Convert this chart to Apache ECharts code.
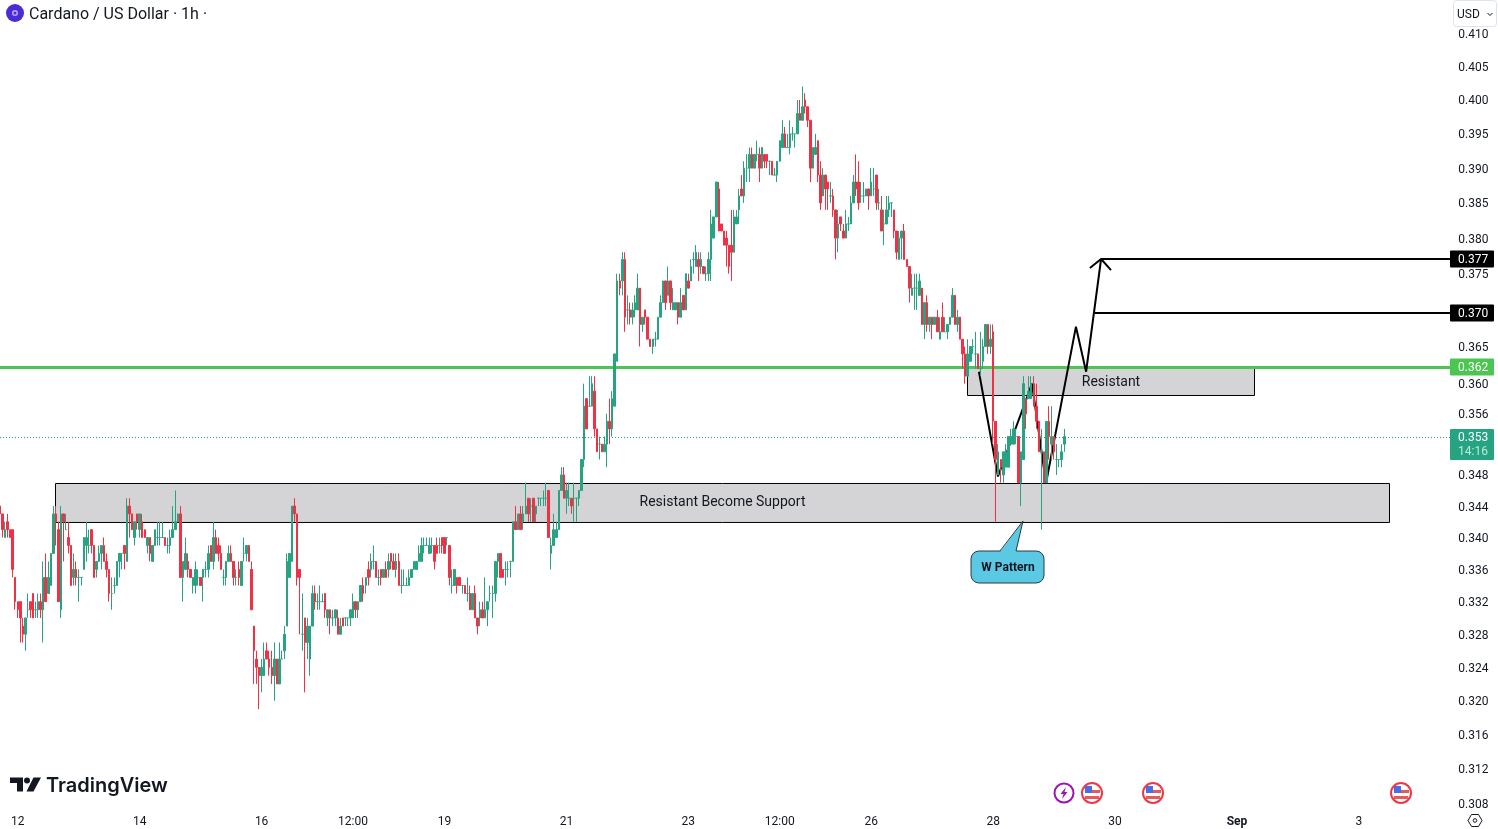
<!DOCTYPE html>
<html>
<head>
<meta charset="utf-8">
<style>html,body{margin:0;padding:0;background:#fff;overflow:hidden}#c{width:1498px;height:829px}</style>
<script src="https://cdn.jsdelivr.net/npm/echarts@6/dist/echarts.min.js"></script>
</head>
<body>
<div id="c"></div>
<script>
// Hourly ADA/USD candles, prices in thousandths of a dollar, first bar Aug 11 17:00
const opens = [
344,343,340,342,341,341,335,332,332,329, 328,331,332,333,331,331,332,331,335,333,
334,338,343,341,331,343,341,340,339,335, 336,335,335,336,339,339,341,339,336,337,
338,339,337,336,333,334,334,337,338,339, 337,344,343,340,343,341,342,341,339,340,
337,339,340,340,340,340,339,339,340,341, 342,343,335,336,337,336,334,334,335,335,
335,336,336,339,337,340,339,338,335,335, 337,338,337,335,336,334,338,338,339,336,
329,325,324,323,323,326,325,324,323,325, 322,325,326,329,335,337,344,343,336,328,
330,327,325,329,333,332,332,332,333,330, 331,330,330,330,328,330,330,330,330,330,
332,331,332,334,334,336,336,337,337,335, 336,335,336,336,338,337,336,337,334,334,
334,334,335,336,336,337,337,339,339,338, 339,339,339,339,340,340,340,339,334,334,
335,335,334,334,333,333,331,333,330,330, 331,330,331,333,333,333,337,338,336,336,
336,337,337,342,341,343,342,343,345,344, 345,343,345,345,345,345,346,338,339,340,
341,346,348,345,345,345,345,345,345,346, 350,358,357,357,359,354,352,352,351,352,
355,354,357,363,374,374,377,370,370,369, 370,370,373,368,370,369,366,365,366,366,
369,371,374,372,374,370,370,371,369,372, 370,374,374,377,376,377,376,376,375,375,
377,380,383,387,382,381,380,379,379,378, 382,384,387,386,390,390,392,390,392,392,
390,392,392,391,391,389,389,391,393,395, 393,393,395,395,395,398,397,400,399,397,
390,392,394,389,386,389,388,386,386,384, 380,383,381,380,382,382,385,388,388,386,
386,386,387,386,387,389,385,384,382,382, 384,385,384,381,377,380,381,377,376,372,
373,373,372,373,368,371,368,369,368,369, 366,369,367,367,368,369,372,368,369,366,
364,361,363,365,364,364,362,363,365,368, 365,367,355,348,350,348,349,349,352,352,
353,353,347,350,358,358,358,360,357,355, 351,351,347,355,352,353,350,350,350,352];
const closes = [
343,341,341,341,340,336,332,331,330,328, 330,331,331,330,331,332,331,335,332,335,
338,343,342,332,343,342,341,339,334,336, 335,335,335,340,340,339,339,335,337,338,
339,337,336,333,333,334,337,338,338,338, 344,343,341,342,342,343,340,340,340,338,
339,341,340,340,340,339,339,340,341,342, 343,335,337,338,336,335,335,336,335,334,
336,336,338,337,340,338,338,336,335,337, 338,337,335,335,335,337,338,339,337,331,
326,324,323,324,325,325,324,323,325,322, 325,325,328,337,338,344,343,335,335,328,
327,329,329,333,332,332,332,332,331,331, 330,330,331,328,329,329,330,330,331,332,
331,332,334,333,335,335,337,337,335,335, 335,336,335,337,337,336,337,334,334,334,
334,335,336,337,337,338,339,339,339,339, 339,337,338,339,339,338,340,335,334,336,
334,334,334,333,333,331,333,330,329,331, 330,331,332,333,333,337,338,335,335,336,
336,337,342,341,343,341,343,344,343,344, 342,344,345,345,345,345,340,339,341,341,
346,348,345,346,345,344,345,345,346,350, 357,354,357,360,354,351,352,351,352,355,
354,358,364,374,373,377,369,370,369,370, 371,373,368,369,369,366,365,366,366,369,
371,374,371,374,371,371,371,369,371,370, 375,373,376,377,378,376,377,375,375,377,
382,383,388,381,381,379,379,376,378,383, 383,386,386,390,390,392,390,392,392,390,
393,391,391,391,389,389,391,394,395,393, 393,395,395,395,398,397,399,399,397,390,
393,393,389,385,389,387,387,386,384,380, 382,382,380,382,382,385,388,387,385,386,
386,387,386,388,387,385,385,381,382,384, 385,385,381,378,380,381,377,376,373,373,
373,373,374,368,371,368,369,368,369,367, 367,367,367,368,369,372,368,369,366,364,
361,364,365,365,364,362,362,365,368,365, 366,355,350,351,349,351,351,353,353,354,
353,347,351,360,356,359,360,357,355,351, 351,347,355,353,353,351,350,350,351,353];
const lows = [
342,340,340,340,340,335,331,330,327,327, 326,330,330,330,330,330,330,327,332,333,
334,338,339,332,330,337,341,338,334,334, 334,332,334,336,337,338,338,335,335,337,
336,337,335,332,331,333,334,335,336,336, 337,340,341,339,341,340,340,340,338,337,
337,339,339,339,340,339,338,338,340,341, 342,335,332,336,335,335,333,333,334,334,
332,335,335,337,336,338,337,336,334,334, 337,337,334,334,334,334,337,337,337,331,
322,322,319,321,323,325,323,322,320,322, 322,325,325,329,335,337,342,334,328,326,
321,325,323,329,331,331,331,332,330,329, 328,329,329,328,328,329,329,329,329,330,
330,330,332,332,333,334,335,336,335,334, 334,335,335,335,336,336,335,334,333,334,
334,334,335,336,336,337,337,338,339,338, 338,336,338,338,338,338,339,334,333,334,
333,334,333,333,332,331,331,330,328,329, 330,330,329,332,330,332,335,335,335,334,
335,335,337,341,341,341,341,343,342,342, 342,342,344,344,344,344,340,336,339,340,
341,346,345,343,344,343,342,342,344,346, 349,354,357,357,353,351,350,351,351,349,
352,353,357,363,372,372,367,368,368,368, 369,370,365,367,368,366,365,364,365,366,
369,371,370,372,370,370,370,368,369,370, 370,373,374,375,376,374,375,375,374,374,
374,380,383,381,381,379,376,375,374,378, 382,382,386,385,388,388,390,390,391,388,
390,390,390,389,389,389,388,391,393,393, 393,392,394,393,395,397,397,398,396,388,
390,392,388,384,386,384,384,385,383,377, 378,381,380,380,381,382,385,386,384,385,
385,386,384,386,386,384,384,381,379,382, 383,383,380,377,377,377,377,376,371,372,
370,370,372,368,366,367,367,366,368,367, 366,367,367,366,368,369,368,367,366,362,
360,361,363,364,362,362,361,362,365,364, 364,352,342,348,347,347,349,349,352,352,
352,347,344,350,354,358,358,357,354,351, 341,347,347,350,350,350,348,349,349,351];
const highs = [
345,343,342,343,341,341,335,332,332,330, 330,333,332,333,332,333,333,337,338,337,
338,344,344,342,344,343,343,342,339,338, 337,336,335,340,342,341,341,339,337,339,
339,340,338,336,335,335,337,338,338,339, 345,345,343,342,343,343,343,341,340,340,
339,341,342,342,342,340,340,341,344,346, 343,344,337,340,338,336,335,337,336,335,
336,337,339,339,342,341,340,339,336,337, 339,339,337,336,337,337,340,339,339,337,
329,326,324,325,327,327,326,326,327,325, 327,326,329,338,338,344,345,343,336,333,
330,330,329,334,334,333,334,333,333,331, 331,331,331,331,330,330,330,330,331,333,
332,332,334,335,335,337,338,339,337,336, 336,336,337,338,338,338,338,338,336,336,
335,336,336,337,337,339,340,340,340,340, 340,339,340,340,340,340,340,339,336,336,
335,335,334,334,335,334,333,334,330,332, 332,335,332,334,334,337,338,338,336,337,
337,337,342,344,343,344,344,347,345,345, 345,344,345,345,346,347,346,340,343,342,
346,349,349,347,347,345,347,345,346,350, 360,358,361,361,361,354,353,352,353,356,
358,359,364,375,375,378,378,372,371,371, 372,375,373,369,370,369,366,366,367,369,
372,374,374,376,374,373,371,371,373,372, 375,375,377,378,379,378,378,376,376,378,
384,383,388,388,382,381,381,379,384,384, 384,387,389,391,392,393,393,392,394,393,
393,392,392,391,391,390,391,394,397,396, 395,397,396,395,400,400,402,401,399,397,
393,395,394,391,390,389,388,388,387,384, 384,383,382,384,383,386,389,392,391,388,
388,387,387,390,390,389,387,386,384,386, 386,385,384,381,381,381,382,377,376,375,
375,375,375,373,371,372,369,369,369,370, 369,371,369,368,369,373,372,370,369,366,
365,366,365,366,367,364,367,366,368,368, 368,368,355,352,350,351,352,353,354,355,
354,353,351,361,358,361,361,361,360,355, 354,351,355,357,357,353,352,350,352,354];

const yTicks = [0.410,0.405,0.400,0.395,0.390,0.385,0.380,0.375,0.365,0.360,0.356,0.348,0.344,0.340,0.336,0.332,0.328,0.324,0.320,0.316,0.312,0.308];
const xTickKeys = ['08-12 00','08-14 00','08-16 00','08-17 12','08-19 00','08-21 00','08-23 00','08-24 12','08-26 00','08-28 00','08-30 00','09-01 00','09-03 00'];
const xTickTexts = ['12','14','16','12:00','19','21','23','12:00','26','28','30','Sep','3'];

// Drawing tools on the chart: bar-index positions and prices
const zigzagBars   = [385.4, 392.9, 406.3, 411.8, 423.6, 427.6, 433.5];
const zigzagPrices = [0.3616, 0.3478, 0.3600, 0.3469, 0.3677, 0.3616, 0.37706];
const arrowBars    = [429.1, 433.5, 437.4];
const arrowPrices  = [0.3758, 0.37706, 0.3755];
const target1Price = 0.37706, target1Start = 433.5;
const target2Price = 0.369574, target2Start = 431.1;
const resistancePrice = 0.362168;
const lastPrice = 0.35287;
const supportZone = {fromBar:21.85, toBar:547.05, top:0.346894, bottom:0.341905, text:'Resistant Become Support'};
const resistZone  = {fromBar:380.9, toBar:493.9, top:0.36203, bottom:0.358419, text:'Resistant'};

const UP='#26a482', DOWN='#f23045', INK='#131722';
const BAR_SLOTS = 572;

const categories = [];
for (let i=0;i<BAR_SLOTS;i++){
  const d=new Date(Date.UTC(2024,7,11,17+i));
  const p=n=>String(n).padStart(2,'0');
  categories.push(p(d.getUTCMonth()+1)+'-'+p(d.getUTCDate())+' '+p(d.getUTCHours()));
}
const ohlc = opens.map((o,i)=>[o/1000,closes[i]/1000,lows[i]/1000,highs[i]/1000]);
const pairs=(xs,ys)=>xs.map((x,i)=>[x,ys[i]]);
const X_MIN=0, X_MAX=BAR_SLOTS-1;
const hline=(name,from,price,color,width,type,z)=>({type:'line',name,xAxisIndex:1,yAxisIndex:0,z,silent:true,showSymbol:false,symbol:'none',animation:false,
  data:[[from,price],[X_MAX,price]],lineStyle:{color,width,type}});
const zone=(zn)=>[{coord:[zn.fromBar,zn.top],name:zn.text},{coord:[zn.toBar,zn.bottom]}];

const chart=echarts.init(document.getElementById('c'),null,{renderer:'canvas'});
chart.setOption({
  animation:false,
  backgroundColor:'#ffffff',
  textStyle:{fontFamily:'Roboto'},
  grid:{left:0,top:0,width:2.54*(BAR_SLOTS-1),height:809,containLabel:false,outerBoundsMode:'none'},
  xAxis:[
    {type:'category',data:categories,boundaryGap:false,axisLine:{show:false},axisTick:{show:false},splitLine:{show:false},
      axisLabel:{margin:7,fontFamily:'Roboto',fontSize:12,color:INK,hideOverlap:false,
        interval:(idx,val)=>xTickKeys.includes(val),
        formatter:(val)=>{const t=xTickTexts[xTickKeys.indexOf(val)];return t==='Sep'?'{b|Sep}':t;},
        rich:{b:{fontFamily:'Roboto',fontWeight:'bold',fontSize:12,color:INK}}}},
    {type:'value',min:X_MIN,max:X_MAX,show:false,splitLine:{show:false}}
  ],
  yAxis:[{type:'log',logBase:10,position:'right',min:0.30739,max:0.415134,scale:true,
    axisLine:{show:false},axisTick:{show:false},splitLine:{show:false},minorTick:{show:false},minorSplitLine:{show:false},
    axisLabel:{show:true,customValues:yTicks,margin:8,verticalAlign:'top',lineHeight:3,fontFamily:'Roboto',fontSize:12,color:INK,
      formatter:v=>Number(v).toFixed(3),showMinLabel:true,showMaxLabel:true,hideOverlap:false}}],
  series:[
    {type:'line',name:'zones',xAxisIndex:1,yAxisIndex:0,z:1,silent:true,symbol:'none',data:[],
      markArea:{silent:true,animation:false,itemStyle:{color:'#d4d4d6',borderColor:'#000',borderWidth:1},
        label:{show:true,position:'inside',fontFamily:'Roboto',fontSize:14,color:INK},
        data:[zone(supportZone),zone(resistZone)]}},
    hline('last',X_MIN,lastPrice,UP,1,[1,2],2),
    hline('resistance',X_MIN,resistancePrice,'#4cc552',3,'solid',2),
    hline('target1',target1Start,target1Price,'#000',2,'solid',2),
    hline('target2',target2Start,target2Price,'#000',2,'solid',2),
    {type:'line',name:'zigzag',xAxisIndex:1,yAxisIndex:0,z:2,silent:true,symbol:'none',data:pairs(zigzagBars,zigzagPrices),lineStyle:{color:'#000',width:2}},
    {type:'line',name:'arrow',xAxisIndex:1,yAxisIndex:0,z:2,silent:true,symbol:'none',data:pairs(arrowBars,arrowPrices),lineStyle:{color:'#000',width:2}},
    {type:'candlestick',name:'ADAUSD',xAxisIndex:0,yAxisIndex:0,z:3,data:ohlc,barWidth:2,clip:true,large:false,
      itemStyle:{color:UP,color0:DOWN,borderColor:UP,borderColor0:DOWN,borderColorDoji:UP,borderWidth:1}}
  ]
});

// overlays tied to the price axis
const yOf=v=>chart.convertToPixel({yAxisIndex:0},v);
const tagPrices=[target1Price,target2Price,resistancePrice];
const tagTexts=['0.377','0.370','0.362'];
const tagColors=['#000000','#000000','#4cc552'];
const g=[];
const T=(x,y,text,o={})=>g.push({type:'text',z:50,silent:true,style:Object.assign({x,y,text,fill:INK,font:'12px Roboto',textAlign:'left',textVerticalAlign:'middle'},o)});
g.push({type:'rect',z:40,silent:true,shape:{x:1450,y:0,width:48,height:28},style:{fill:'#fff'}});
g.push({type:'rect',z:40,silent:true,shape:{x:1450,y:808,width:48,height:21},style:{fill:'#fff'}});
tagPrices.forEach((p,i)=>{
  const y=Math.floor(yOf(p)+0.1);
  g.push({type:'rect',z:45,silent:true,shape:{x:1450,y:y-8.5,width:44,height:17,r:1},style:{fill:tagColors[i]}});
  T(1458,y+1,tagTexts[i],{fill:'#fff'});
});
{
  const y=Math.floor(yOf(lastPrice));
  g.push({type:'rect',z:45,silent:true,shape:{x:1450,y:y-8,width:44,height:31,r:1},style:{fill:UP}});
  T(1458,y+1,'0.353',{fill:'#fff'});
  T(1458,y+15,'14:16',{fill:'#bfe6da'});
}
g.push({type:'circle',z:50,silent:true,shape:{cx:15,cy:13,r:9},style:{fill:'#4b2bd6'}});
g.push({type:'circle',z:51,silent:true,shape:{cx:15,cy:13,r:3},style:{fill:'#b9a9f5'}});
g.push({type:'circle',z:52,silent:true,shape:{cx:15,cy:13,r:1.5},style:{fill:'#4b2bd6'}});
T(29,14.5,'Cardano / US Dollar · 1h ·',{font:'16px Roboto'});
g.push({type:'rect',z:46,silent:true,shape:{x:1453.5,y:0.5,width:43,height:26,r:3},style:{fill:'#fff',stroke:'#e0e3eb',lineWidth:1}});
T(1457,15,'USD',{font:'12px Roboto'});
g.push({type:'polyline',z:50,silent:true,shape:{points:[[1487.5,13],[1490,15.5],[1492.5,13]]},style:{stroke:INK,lineWidth:1,fill:'none'}});
[[[10,777.5],[23,777.5],[23,791.5],[17,791.5],[17,783],[10,783]],[[33.5,777.5],[41,777.5],[33.5,791.5],[26.5,791.5]]].forEach(pts=>
  g.push({type:'polygon',z:50,silent:true,shape:{points:pts},style:{fill:INK}}));
g.push({type:'circle',z:50,silent:true,shape:{cx:27,cy:780.5,r:3},style:{fill:INK}});
T(46,786,'TradingView',{font:'600 20px Inter'});
g.push({type:'rect',z:30,silent:true,shape:{x:971,y:551,width:73,height:32,r:8},style:{fill:'#5bc8e4',stroke:'#2a3a40',lineWidth:1}});
g.push({type:'polygon',z:31,silent:true,shape:{points:[[1000,552],[1023,521],[1016,552]]},style:{fill:'#5bc8e4'}});
g.push({type:'polyline',z:32,silent:true,shape:{points:[[1000,551],[1023,521],[1016,551]]},style:{stroke:'#2a3a40',lineWidth:1,fill:'none'}});
T(1008,568,'W Pattern',{font:'bold 12px Roboto',textAlign:'center'});
g.push({type:'circle',z:50,silent:true,shape:{cx:1064,cy:793,r:9.5},style:{fill:'#fff',stroke:'#a012b8',lineWidth:2}});
g.push({type:'polygon',z:51,silent:true,shape:{points:[[1066,787],[1060.5,794],[1063.5,794],[1062,799],[1067.5,792],[1064.5,792]]},style:{fill:'#a012b8'}});
[1092,1153,1401].forEach(cx=>{
  const cy=793;
  g.push({type:'circle',z:50,silent:true,shape:{cx,cy,r:10},style:{fill:'#fff',stroke:'#f23645',lineWidth:2}});
  g.push({type:'rect',z:51,silent:true,shape:{x:cx-7,y:cy-7,width:7,height:7},style:{fill:'#4a6de5'}});
  g.push({type:'rect',z:51,silent:true,shape:{x:cx,y:cy-3,width:8,height:3},style:{fill:'#e85a5a'}});
  g.push({type:'rect',z:51,silent:true,shape:{x:cx-7,y:cy+3,width:14,height:3},style:{fill:'#e85a5a'}});
});
g.push({type:'polygon',z:50,silent:true,shape:{points:[[1468,820.5],[1471.5,814.5],[1478.5,814.5],[1482,820.5],[1478.5,826.5],[1471.5,826.5]]},style:{fill:'#fff',stroke:INK,lineWidth:1}});
g.push({type:'circle',z:51,silent:true,shape:{cx:1475,cy:820.5,r:1.8},style:{fill:'#fff',stroke:INK,lineWidth:1}});
chart.setOption({graphic:{elements:g}});
</script>
</body>
</html>
